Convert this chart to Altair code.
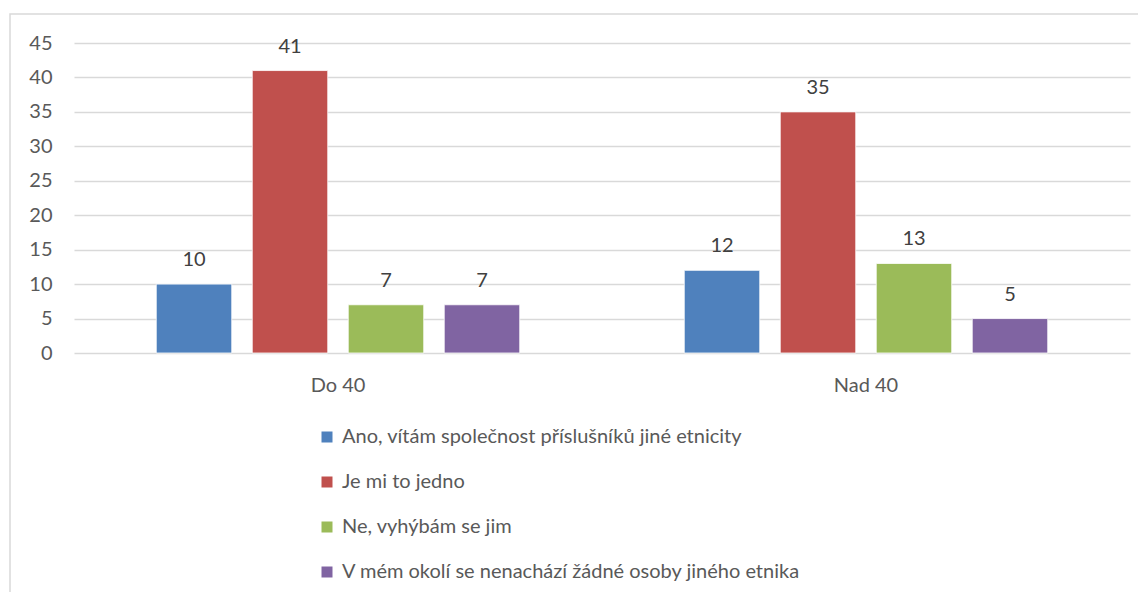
import altair as alt
import pandas as pd

categories = ["Do 40", "Nad 40"]
series = [
    "Ano, vítám společnost příslušníků jiné etnicity",
    "Je mi to jedno",
    "Ne, vyhýbám se jim",
    "V mém okolí se nenachází žádné osoby jiného etnika",
]
values_do40 = [10, 41, 7, 7]
values_nad40 = [12, 35, 13, 5]
colors = ["#4F81BD", "#C0504D", "#9BBB59", "#8064A2"]

rows = []
for cat, vals in zip(categories, [values_do40, values_nad40]):
    for s, v in zip(series, vals):
        rows.append({"kategorie": cat, "odpoved": s, "pocet": v})
df = pd.DataFrame(rows)

FONT = "Lato"
GREY = "#595959"
FS = 20

x = alt.X("kategorie:N", sort=categories, title=None,
          scale=alt.Scale(paddingInner=0, paddingOuter=0),
          axis=alt.Axis(labelAngle=0, labelFontSize=FS, labelColor=GREY, labelFont=FONT,
                        ticks=False, domain=False, labelPadding=22, grid=False))
xo = alt.XOffset("odpoved:N", sort=series,
                 scale=alt.Scale(paddingInner=0.2135, paddingOuter=0.857))
y = alt.Y("pocet:Q", title=None,
          scale=alt.Scale(domain=[0, 45], nice=False),
          axis=alt.Axis(values=list(range(0, 50, 5)), labelFontSize=FS, labelColor=GREY,
                        labelFont=FONT, ticks=False, domain=False, labelPadding=22,
                        gridColor="#D9D9D9", gridWidth=1.3))

base = alt.Chart(df)

bars = base.mark_bar(stroke="white", strokeWidth=0.8).encode(
    x=x, xOffset=xo, y=y,
    color=alt.Color("odpoved:N", sort=series,
                    scale=alt.Scale(domain=series, range=colors),
                    legend=alt.Legend(title=None, orient="none", legendX=243, legendY=384,
                                      direction="vertical", symbolType="square",
                                      symbolSize=121, symbolStrokeWidth=0,
                                      labelFontSize=FS, labelColor=GREY, labelFont=FONT,
                                      rowPadding=25, labelOffset=5, labelLimit=800)),
)

labels = base.mark_text(dy=-18, fontSize=FS, color="#404040", font=FONT, baseline="alphabetic").encode(
    x=x, xOffset=xo, y=y, text=alt.Text("pocet:Q"),
)

border = alt.Chart(pd.DataFrame({"a": [0]})).mark_rect(
    fill=None, stroke="#D9D9D9", strokeWidth=1.5, clip=False
).encode(x=alt.value(-64), x2=alt.value(1200), y=alt.value(-29), y2=alt.value(700))

chart = alt.layer(border, bars, labels).properties(
    width=1056, height=310,
    padding={"left": 66, "top": 35, "right": 8, "bottom": 239},
    autosize=alt.AutoSizeParams(type="none"),
    background="white",
).configure_view(stroke=None)

chart.save("out.html", embed_options={"renderer": "svg", "actions": False})
